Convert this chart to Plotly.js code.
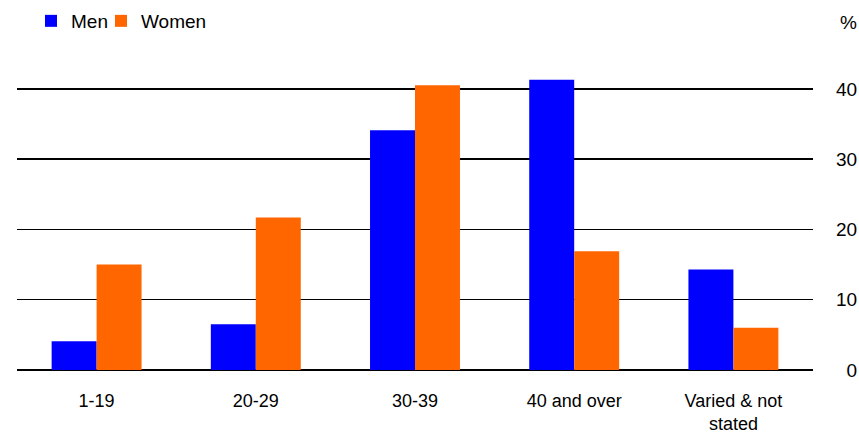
<!DOCTYPE html>
<html>
<head>
<meta charset="utf-8">
<script src="https://cdn.plot.ly/plotly-3.0.1.min.js"></script>
<style>html,body{margin:0;padding:0;background:#fff;}#chart{width:859px;height:433px;}</style>
</head>
<body>
<div id="chart"></div>
<script>
const categories = ["1-19", "20-29", "30-39", "40 and over", "Varied & not<br>stated"];
const menValues = [4.1, 6.5, 34.1, 41.3, 14.3];
const womenValues = [15.0, 21.7, 40.5, 16.9, 6.0];
const yTickVals = [0, 10, 20, 30, 40];
const yTickText = ["\u20070", "10", "20", "30", "40"];

const font = {family: "Liberation Sans, Arial, sans-serif", size: 19, color: "#000"};
const xFont = {family: "Liberation Sans, Arial, sans-serif", size: 18, color: "#000"};

const data = [
  {type: "bar", name: "Men", x: categories, y: menValues, marker: {color: "#0000FF"}, legend: "legend"},
  {type: "bar", name: "Women", x: categories, y: womenValues, marker: {color: "#FF6600"}, legend: "legend2"}
];

const legendBase = {orientation: "h", xanchor: "left", y: 0.9515, yanchor: "middle",
                    yref: "container", font: font, itemclick: false, bgcolor: "rgba(0,0,0,0)"};

const layout = {
  width: 859, height: 433,
  margin: {l: 17, r: 46, t: 46, b: 63},
  paper_bgcolor: "#fff", plot_bgcolor: "#fff",
  font: font,
  barmode: "group",
  bargap: 0.435,
  bargroupgap: 0,
  showlegend: true,
  legend: Object.assign({}, legendBase, {x: 0.0176}),
  legend2: Object.assign({}, legendBase, {x: 0.1055}),
  xaxis: {type: "category", showgrid: false, ticks: "", showline: false, zeroline: false,
          tickfont: xFont, ticklabelstandoff: 18, automargin: false},
  yaxis: {side: "right", range: [0, 46.1], tickvals: yTickVals, ticktext: yTickText,
          showgrid: true, gridcolor: "#000", gridwidth: 1.5,
          zeroline: true, zerolinecolor: "#000", zerolinewidth: 2.5,
          ticks: "", showline: false, tickfont: font, ticklabelstandoff: 22, automargin: false},
  annotations: [
    {text: "%", xref: "paper", yref: "paper", x: 1.0, xanchor: "left", xshift: 25,
     y: 1.0, yanchor: "middle", yshift: 24, showarrow: false, font: font}
  ]
};

Plotly.newPlot("chart", data, layout, {displayModeBar: false, staticPlot: true});
</script>
</body>
</html>
